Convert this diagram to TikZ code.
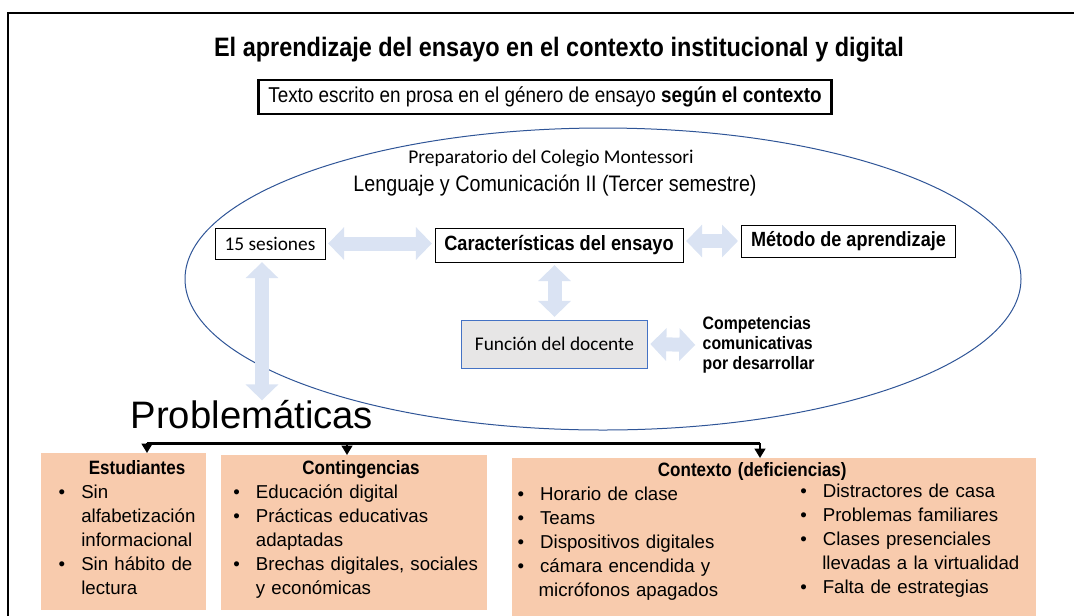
\documentclass[tikz,border=0pt]{standalone}
\usepackage{fontspec}
\setmainfont{Liberation Sans}
\newfontfamily\narrowsf[FakeStretch=0.88]{Liberation Sans}
\newfontfamily\calibri{Carlito}
\usetikzlibrary{positioning,arrows.meta}

\definecolor{peach}{HTML}{F8CBAD}
\definecolor{paleblue}{HTML}{DAE3F3}
\definecolor{ringblue}{HTML}{2F5597}
\definecolor{docgray}{HTML}{E7E6E6}
\definecolor{docedge}{HTML}{4472C4}

\newcommand\fsz[2]{\fontsize{#1}{#2}\selectfont}
\newenvironment{plist}[1][22pt]{%
  \begin{list}{\textbullet}{\setlength{\leftmargin}{#1}\setlength{\labelsep}{12pt}%
    \setlength{\labelwidth}{\dimexpr#1-12pt\relax}\setlength{\itemsep}{0pt}%
    \setlength{\parsep}{0pt}\setlength{\topsep}{0pt}\setlength{\partopsep}{0pt}}\raggedright}
  {\end{list}}

\begin{document}
\begin{tikzpicture}[x=0.75pt, y=-0.75pt,
    plainbox/.style={draw, line width=0.75pt, inner sep=3pt},
    fatarrow/.style={draw=paleblue, line width=10.5pt,
      {Triangle[width=24pt,length=12pt]}-{Triangle[width=24pt,length=12pt]},
      shorten <=2pt, shorten >=2pt},
    probbox/.style={fill=peach, anchor=north west, inner xsep=4pt, inner ysep=4pt,
      font=\fsz{14}{18}},
    drop/.style={line width=1.5pt, -{Triangle[width=8pt,length=7pt]}}]
    \useasboundingbox (0,0) rectangle (1074,615);
    \clip (0,0) rectangle (1074,615);
    % frame
    \draw[line width=1.5pt] (8,13) rectangle (1090,630);

    % title and genre
    \node[font=\narrowsf\bfseries\fsz{20}{22}] (title) at (559,50)
        {El aprendizaje del ensayo en el contexto institucional y digital};
    \node[draw, line width=2pt, minimum width=430pt, minimum height=25.5pt,
        font=\narrowsf\fsz{16.1}{18}] (genre) at (545,97)
        {Texto escrito en prosa en el género de ensayo \textbf{según el contexto}};

    % institution
    \draw[ringblue, line width=0.75pt] (603,279) ellipse [x radius=313.5pt, y radius=113.25pt];
    \node[font=\calibri\fsz{14.6}{16}] (school) at (551,158) {Preparatorio del Colegio Montessori};
    \node[font=\narrowsf\fsz{16.8}{18}] (course) at (555,186) {Lenguaje y Comunicación II (Tercer semestre)};

    \node[plainbox, font=\calibri\fsz{14.5}{16}, minimum width=82.5pt, minimum height=23.25pt]
        (sessions) at (270,243.5) {15 sesiones};
    \node[plainbox, font=\narrowsf\bfseries\fsz{15.5}{18}, minimum width=186pt, minimum height=25.5pt]
        (traits) at (559,245) {Características del ensayo};
    \node[plainbox, font=\narrowsf\bfseries\fsz{15.4}{18}, minimum width=161pt, minimum height=24pt]
        (method) at (848.5,241) {Método de aprendizaje};
    \node[draw=docedge, fill=docgray, line width=0.75pt, font=\calibri\fsz{14.5}{16},
        minimum width=139pt, minimum height=36pt] (teacher) at (554.5,344) {Función del docente};
    \node[font=\narrowsf\bfseries\fsz{13.5}{15}, align=left, anchor=west]
        (skills) at (698,345) {Competencias\\comunicativas\\por desarrollar};

    \draw[fatarrow] (sessions.east) -- (sessions.east -| traits.west);
    \draw[fatarrow] (traits.east |- method.west) -- (method.west);
    \draw[fatarrow] (teacher.north |- traits.south) -- (teacher.north);
    \draw[fatarrow] (teacher.east) -- (skills.west);

    % problems
    \node[font=\fsz{28.7}{32}, anchor=base west] (issues) at (126,428) {Problemáticas};
    \coordinate (probtop) at (262,403);
    \draw[fatarrow] ([xshift=-6pt]sessions.south) -- (probtop);

    \node[probbox, inner ysep=5.5pt, text width=115.75pt, text depth=96.3pt] (students) at (41,453)
        {{\centering\hspace*{20pt}\narrowsf\bfseries\fsz{14.5}{18}Estudiantes\par}
         \begin{plist}[26pt]
           \item Sin alfabetización informacional
           \item Sin hábito de lectura
         \end{plist}};
    \node[probbox, text width=191.5pt, text depth=97.7pt] (events) at (221,455)
        {{\centering\hspace*{10pt}\narrowsf\bfseries\fsz{14.5}{18}Contingencias\par}
         \begin{plist}[22pt]
           \item Educación digital
           \item Prácticas educativas adaptadas
           \item Brechas digitales, sociales y económicas
         \end{plist}};
    \node[probbox, inner ysep=3.5pt, text width=385pt, text depth=115pt] (setting) at (512,458)
        {{\centering\hspace*{-33pt}\narrowsf\bfseries\fsz{14.5}{16}Contexto (deficiencias)\par}
         \begin{minipage}[t]{170pt}
           \begin{plist}[15.75pt]
             \item Horario de clase
             \item Teams
             \item Dispositivos digitales
             \item cámara encendida y micrófonos apagados
           \end{plist}
         \end{minipage}%
         \hspace{42pt}%
         \raisebox{2.25pt}{\begin{minipage}[t]{172pt}
           \begin{plist}[16.5pt]
             \item Distractores de casa
             \item Problemas familiares
             \item Clases presenciales llevadas a la virtualidad
             \item Falta de estrategias
           \end{plist}
         \end{minipage}}};

    % fork to the three groups
    \coordinate (fork1) at (147,443);
    \coordinate (fork2) at (347,443);
    \coordinate (fork3) at (760,443);
    \draw[line width=2.25pt] (fork1) -- (fork3);
    \foreach \f/\b in {fork1/students, fork2/events, fork3/setting}
        \draw[drop] (\f) -- (\f |- \b.north);
\end{tikzpicture}
\end{document}
